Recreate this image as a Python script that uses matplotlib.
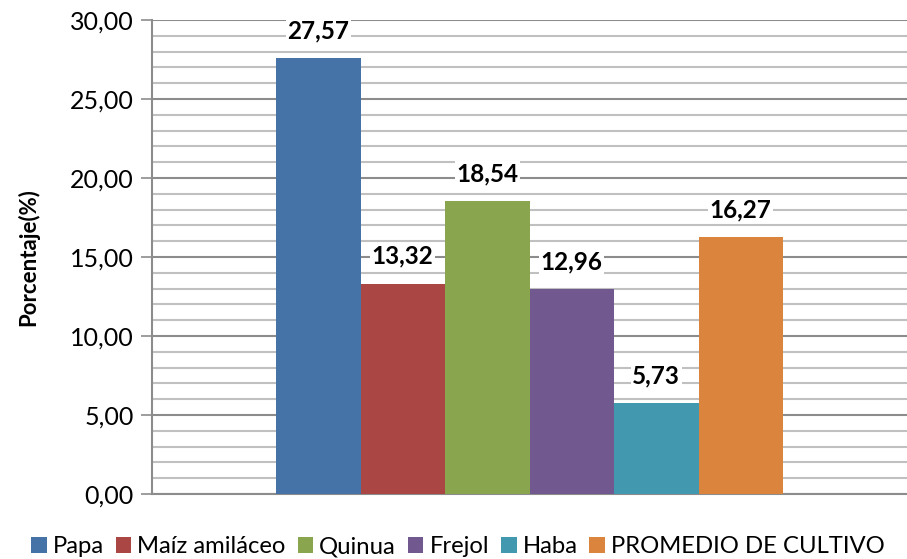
import matplotlib.pyplot as plt
import numpy as np
from matplotlib.ticker import MultipleLocator, FuncFormatter

cultivos = ["Papa", "Maíz amiláceo", "Quinua", "Frejol", "Haba", "PROMEDIO DE CULTIVO"]
porcentajes = [27.57, 13.32, 18.54, 12.96, 5.73, 16.27]
colores = ["#4572A7", "#AA4643", "#89A54E", "#71588F", "#4198AF", "#DB843D"]

plt.rcParams['font.family'] = ['Lato', 'DejaVu Sans']

fig = plt.figure(figsize=(9.07, 5.59), dpi=100)
ax = fig.add_axes([152 / 907, 65 / 559, 755 / 907, 474 / 559])

# una sola categoria, seis series
ancho = 84.5 / 755
n = len(cultivos)
offsets = (np.arange(n) - (n - 1) / 2) * ancho
for off, nombre, val, col in zip(offsets, cultivos, porcentajes, colores):
    ax.bar(off, val, width=ancho, color=col, label=nombre, zorder=3)
    ax.text(off, val + 1.0, f"{val:.2f}".replace(".", ","), ha="center", va="bottom",
            fontsize=17.5, fontweight="bold", zorder=4,
            bbox=dict(facecolor="white", edgecolor="none", pad=1))

ax.set_xlim(-0.5, 0.5)
ax.set_ylim(0, 30)
ax.yaxis.set_major_locator(MultipleLocator(5))
ax.yaxis.set_minor_locator(MultipleLocator(1))
ax.yaxis.set_major_formatter(FuncFormatter(lambda v, p: f"{v:.2f}".replace(".", ",")))
ax.grid(axis="y", which="major", color="#8c8c8c", linewidth=1.5, zorder=0)
ax.grid(axis="y", which="minor", color="#c0c0c0", linewidth=1.5, zorder=0)
ax.set_xticks([])
ax.tick_params(axis="y", which="major", length=8, width=1.2, color="#8c8c8c", labelsize=18, pad=5)
ax.tick_params(axis="y", which="minor", length=0)
for s in ["top", "right"]:
    ax.spines[s].set_visible(False)
for s in ["left", "bottom"]:
    ax.spines[s].set_color("#8c8c8c")
    ax.spines[s].set_linewidth(1.5)

ax.set_ylabel("Porcentaje(%)", fontsize=16, fontweight="bold", labelpad=22)

fig.legend(loc="lower center", bbox_to_anchor=(0.505, -0.035), ncol=6, frameon=False,
           fontsize=17.2, handlelength=0.65, handleheight=0.65, handletextpad=0.25,
           columnspacing=0.5)

fig.savefig("out.png", dpi=100)
